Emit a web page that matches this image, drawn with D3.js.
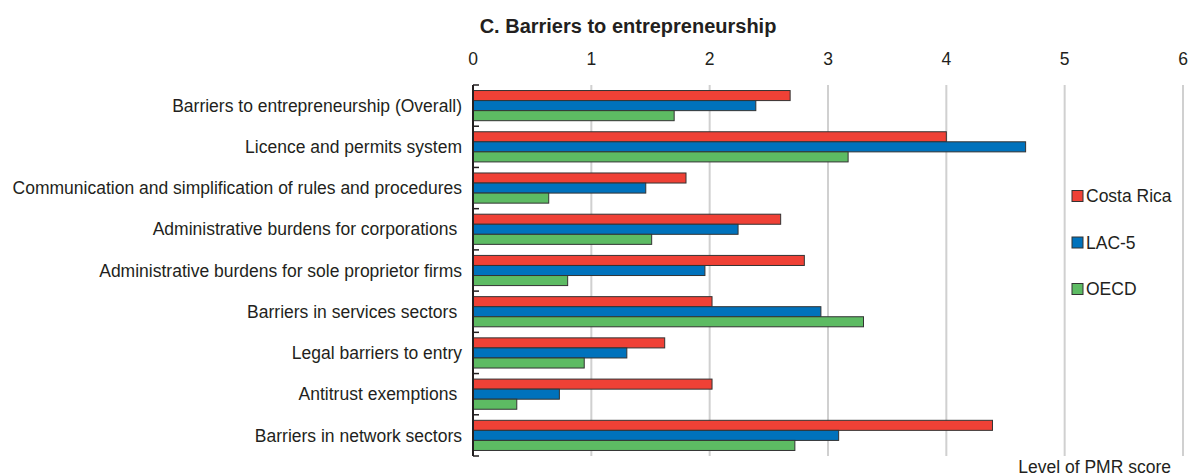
<!DOCTYPE html>
<html>
<head>
<meta charset="utf-8">
<script src="https://cdn.jsdelivr.net/npm/d3@7"></script>
<style>
  body { margin: 0; background: #fff; }
  text { font-family: "Liberation Sans", Arial, sans-serif; fill: #231f20; }
</style>
</head>
<body>
<div id="chart"></div>
<script>
var categories = [
  "Barriers to entrepreneurship (Overall)",
  "Licence and permits system",
  "Communication and simplification of rules and procedures",
  "Administrative burdens for corporations ",
  "Administrative burdens for sole proprietor firms",
  "Barriers in services sectors ",
  "Legal barriers to entry",
  "Antitrust exemptions ",
  "Barriers in network sectors"
];
var seriesNames = ["Costa Rica", "LAC-5", "OECD"];
var costaRica = [2.68, 4.00, 1.80, 2.60, 2.80, 2.02, 1.62, 2.02, 4.39];
var lac5      = [2.39, 4.67, 1.46, 2.24, 1.96, 2.94, 1.30, 0.73, 3.09];
var oecd      = [1.70, 3.17, 0.64, 1.51, 0.80, 3.30, 0.94, 0.37, 2.72];
var xTicks = [0, 1, 2, 3, 4, 5, 6];
var colors = ["#ef4136", "#0072bc", "#5dbb63"];

var W = 1188, H = 476;
var margin = {top: 85, right: 5, bottom: 20, left: 473};
var width = 1183 - margin.left;
var height = 456 - margin.top;
var fs = '17.5px';

var svg = d3.select('#chart')
  .append('svg')
  .attr('width', W)
  .attr('height', H);

var g = svg.append('g')
  .attr('transform', 'translate(' + margin.left + ',' + margin.top + ')');

var x = d3.scaleLinear().domain([0, 6]).range([0, width]);

var y = d3.scaleBand()
  .domain(categories)
  .range([0, height])
  .paddingInner(0)
  .paddingOuter(0);

var y1 = d3.scaleBand()
  .domain(seriesNames)
  .range([0, y.bandwidth()])
  .paddingOuter(0.55)
  .paddingInner(0);

// gridlines
g.selectAll('.grid')
  .data(xTicks.filter(function(d) { return d > 0; }))
  .enter()
  .append('line')
  .attr('x1', function(d) { return x(d); })
  .attr('x2', function(d) { return x(d); })
  .attr('y1', 0)
  .attr('y2', height)
  .attr('stroke', '#d0d0d0')
  .attr('stroke-width', 2);

// top tick labels
g.selectAll('.xlab')
  .data(xTicks)
  .enter()
  .append('text')
  .attr('x', function(d) { return x(d); })
  .attr('y', -20)
  .attr('text-anchor', 'middle')
  .style('font-size', fs)
  .text(function(d) { return d; });

var data = categories.map(function(c, i) {
  return {cat: c, values: [costaRica[i], lac5[i], oecd[i]]};
});

var groups = g.selectAll('.grp')
  .data(data)
  .enter()
  .append('g')
  .attr('transform', function(d) { return 'translate(0,' + y(d.cat) + ')'; });

groups.selectAll('rect')
  .data(function(d) { return d.values.map(function(v, j) { return {s: seriesNames[j], v: v, j: j}; }); })
  .enter()
  .append('rect')
  .attr('x', x(0))
  .attr('y', function(d) { return y1(d.s); })
  .attr('width', function(d) { return x(d.v) - x(0); })
  .attr('height', y1.bandwidth())
  .attr('fill', function(d) { return colors[d.j]; })
  .attr('stroke', '#333')
  .attr('stroke-width', 1);

// category axis
var yAxis = g.append('g');
yAxis.append('line')
  .attr('x1', 0).attr('x2', 0)
  .attr('y1', 0).attr('y2', height)
  .attr('stroke', '#231f20').attr('stroke-width', 2);
yAxis.selectAll('.tk')
  .data(categories.concat(['__end']))
  .enter()
  .append('line')
  .attr('x1', 0).attr('x2', 6)
  .attr('y1', function(d, i) { return i < categories.length ? y(d) : height; })
  .attr('y2', function(d, i) { return i < categories.length ? y(d) : height; })
  .attr('stroke', '#231f20').attr('stroke-width', 1.5);
yAxis.selectAll('.ylab')
  .data(categories)
  .enter()
  .append('text')
  .attr('x', -11)
  .attr('y', function(d) { return y(d) + y.bandwidth() / 2; })
  .attr('dy', '0.35em')
  .attr('text-anchor', 'end')
  .attr('xml:space', 'preserve')
  .style('white-space', 'pre')
  .style('font-size', fs)
  .text(function(d) { return d; });

// title
svg.append('text')
  .attr('x', 628)
  .attr('y', 33)
  .attr('text-anchor', 'middle')
  .style('font-size', '20px')
  .style('font-weight', 'bold')
  .text('C. Barriers to entrepreneurship');

// legend
var legend = svg.selectAll('.leg')
  .data(seriesNames)
  .enter()
  .append('g')
  .attr('transform', function(d, i) { return 'translate(1072,' + (196 + i * 46.5) + ')'; });
legend.append('rect')
  .attr('x', 0).attr('y', -5.5)
  .attr('width', 11).attr('height', 11)
  .attr('fill', function(d, i) { return colors[i]; })
  .attr('stroke', '#333');
legend.append('text')
  .attr('x', 14)
  .attr('y', 0)
  .attr('dy', '0.35em')
  .style('font-size', fs)
  .text(function(d) { return d; });

svg.append('text')
  .attr('x', 1171)
  .attr('y', 473)
  .attr('text-anchor', 'end')
  .style('font-size', fs)
  .text('Level of PMR score');
</script>
</body>
</html>
